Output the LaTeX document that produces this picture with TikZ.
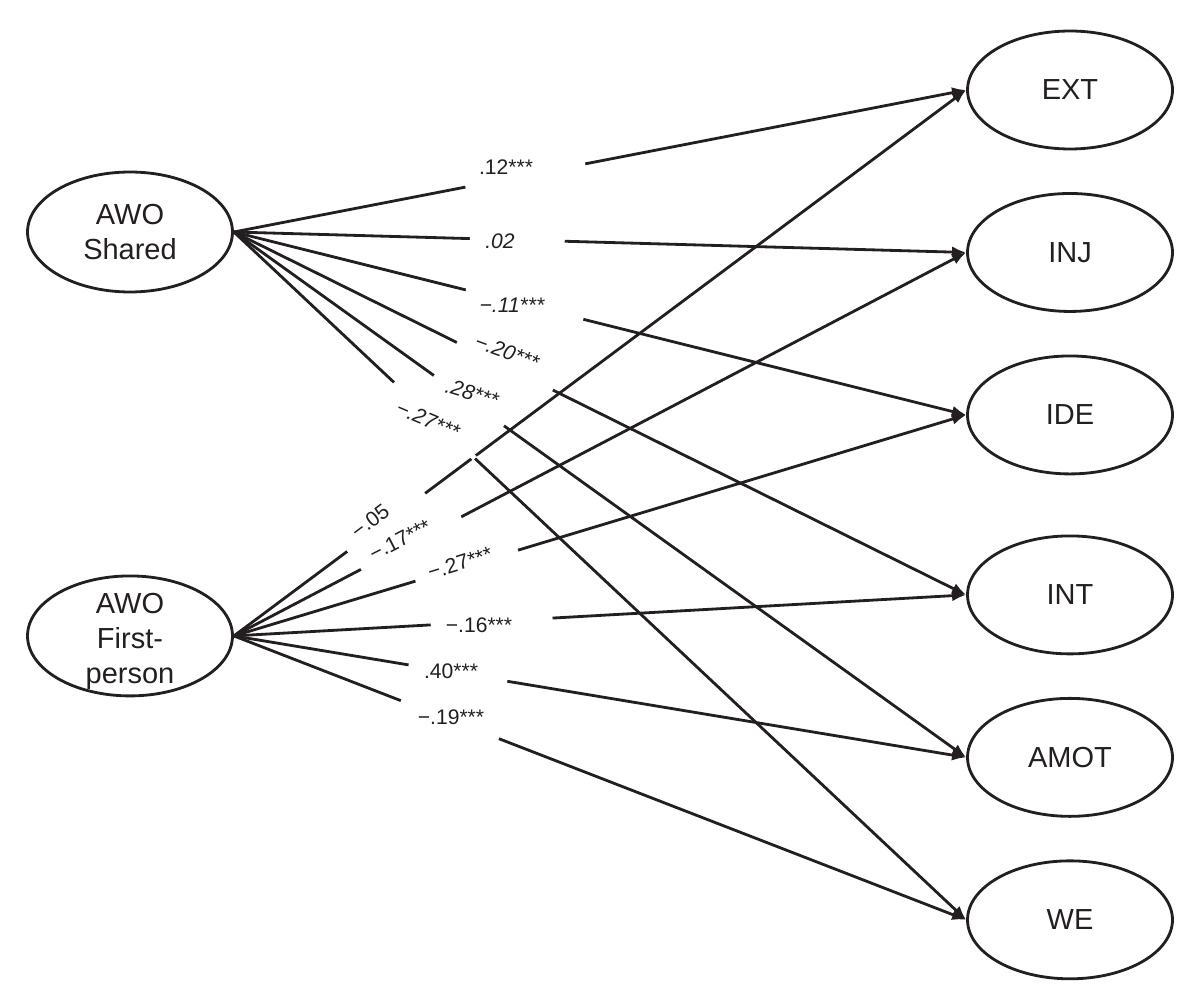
\documentclass[tikz,border=0pt]{standalone}
\usepackage{fontspec}
\setmainfont{Liberation Sans}
\usepackage{tikz}
\usetikzlibrary{shapes,arrows.meta}

\definecolor{ink}{HTML}{231F20}

\begin{document}
\begin{tikzpicture}[x=0.02cm, y=-0.02cm]
\tikzstyle{latent}=[ellipse, draw=ink, line width=1.6pt, minimum width=4.1cm, minimum height=2.4cm, inner sep=0pt, align=center, text=ink, font=\fontsize{16.5}{20}\selectfont]
\tikzstyle{factor}=[latent, minimum height=2.36cm, node distance=3.25cm]
\tikzstyle{caption}=[align=center, inner sep=0pt, text=ink, font=\fontsize{16.5}{20}\selectfont]
\tikzstyle{connect}=[-{Latex[length=8pt, width=6.5pt]}, line width=1.6pt, draw=ink]
\tikzstyle{gap}=[fill=white, sloped, inner sep=0pt, minimum height=3pt]
\tikzstyle{coef}=[text=ink, inner sep=0pt, font=\fontsize{12}{14}\selectfont]

\useasboundingbox (0,0) rectangle (1200,1003);

  % predictors
  \node[latent] (shr) at (130,232) {AWO\\Shared};
  \node[latent] (fst) [node distance=8.08cm, below of=shr] {};
  \node[caption] (fsttext) [yshift=-3pt] at (fst) {AWO\\First-\\person};

  % outcomes
  \node[factor] (ext) at (1070,90) {EXT};
  \node[factor] (inj) [below of=ext] {INJ};
  \node[factor] (ide) [below of=inj] {IDE};
  \node[factor] (int) [below of=ide, yshift=-0.35cm] {INT};
  \node[factor] (amot) [below of=int] {AMOT};
  \node[factor] (we) [below of=amot] {WE};

  \path (fst.east) edge [connect] node[gap, pos=.208, minimum width=1.94cm] (g1) {} (ext.west)
        (fst.east) edge [connect] node[gap, pos=.242, minimum width=2.26cm] (g2) {} (inj.west)
        (fst.east) edge [connect] node[gap, pos=.318, minimum width=2.14cm] (g3) {} (ide.west)
        (fst.east) edge [connect] node[gap, pos=.352, minimum width=2.44cm] (g4) {} (int.west)
        (fst.east) edge [connect] node[gap, pos=.306, minimum width=2.0cm] (g5) {} (amot.west)
        (fst.east) edge [connect] node[gap, pos=.295, minimum width=2.1cm] (g6) {} (we.west);

  \path (shr.east) edge [connect] node[gap, pos=.398, minimum width=2.44cm] (h1) {} (ext.west)
        (shr.east) edge [connect] node[gap, pos=.387, minimum width=1.9cm] (h2) {} (inj.west)
        (shr.east) edge [connect] node[gap, pos=.397, minimum width=2.42cm] (h3) {} (ide.west)
        (shr.east) edge [connect] node[gap, pos=.370, minimum width=2.14cm] (h4) {} (int.west)
        (shr.east) edge [connect] node[gap, pos=.321, minimum width=1.72cm] (h5) {} (amot.west)
        (shr.east) edge [connect] node[gap, pos=.274, minimum width=2.22cm] (h6) {} (we.west);

  % coefficients
  \node[coef] (c1) at (506,167) {.12***};
  \node[coef] (c2) at (500,241) {\itshape .02};
  \node[coef] (c3) at (512,305) {\itshape −.11***};
  \node[coef, rotate=-20] (c4) at (507,352) {\itshape −.20***};
  \node[coef, rotate=-17] (c5) at (472,393) {\itshape .28***};
  \node[coef, rotate=-23] (c6) at (428,420) {\itshape −.27***};
  \node[coef, rotate=37] (d1) at (370,521) {−.05};
  \node[coef, rotate=27] (d2) at (400,540) {−.17***};
  \node[coef, rotate=17] (d3) at (460,563) {−.27***};
  \node[coef] (d4) at (479,625) {−.16***};
  \node[coef] (d5) at (451,671) {.40***};
  \node[coef] (d6) at (451,717) {−.19***};

\end{tikzpicture}
\end{document}
